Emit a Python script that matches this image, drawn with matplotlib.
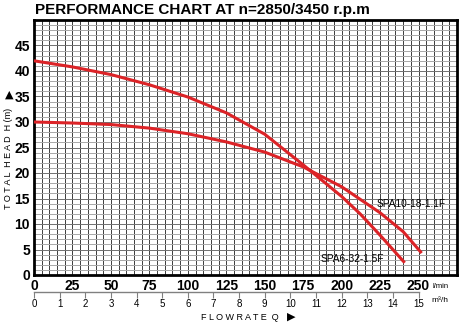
import matplotlib
matplotlib.use("Agg")
import matplotlib.pyplot as plt
import numpy as np

# flow in l/min, head in m
flow_a = [0, 25, 50, 75, 100, 125, 150, 175, 200, 212, 225, 241]
head_a = [42, 40.8, 39.3, 37.3, 34.9, 31.8, 27.6, 21.6, 15.4, 12, 7.8, 2.4]
flow_b = [0, 25, 50, 75, 100, 125, 150, 175, 200, 225, 240, 252]
head_b = [30, 29.8, 29.5, 28.8, 27.7, 26.1, 24.1, 21.2, 17.3, 12.2, 8.5, 4.3]
label_a = "SPA6-32-1.5F"
label_b = "SPA10-18-1.1F"

x_ticks = list(range(0, 251, 25))
y_ticks = list(range(0, 46, 5))
m3h_ticks = list(range(0, 16))

W, H = 464, 328
fig = plt.figure(figsize=(W / 100, H / 100), dpi=100)
fig.patch.set_facecolor("white")

L, R, T, B = 34, 457, 20, 275
ax = fig.add_axes([L / W, 1 - B / H, (R - L) / W, (B - T) / H])
ax.set_xlim(0, 275)
ax.set_ylim(0, 50)

# grid
for xv in np.arange(5, 275, 5):
    ax.axvline(xv, color="#3c3c3c", lw=0.7, zorder=1)
for yv in np.arange(1, 50, 1):
    ax.axhline(yv, color="#707070" if yv % 5 == 0 else "#a8a8a8", lw=0.7, zorder=1)

red = "#dc2327"
ax.plot(flow_a, head_a, color=red, lw=2.2, zorder=3, solid_capstyle="butt")
ax.plot(flow_b, head_b, color=red, lw=2.2, zorder=3, solid_capstyle="butt")

ax.text(223, 13.9, label_b, fontsize=7.3, va="center", ha="left",
        family="Liberation Sans", zorder=4)
ax.text(186, 3.1, label_a, fontsize=7.3, va="center", ha="left",
        family="Liberation Sans", zorder=4)

for s in ax.spines.values():
    s.set_linewidth(2)
    s.set_color("black")

ax.set_xticks(x_ticks)
ax.set_yticks(y_ticks)
ax.tick_params(length=0, pad=3)
ax.set_xticklabels([str(v) for v in x_ticks], fontsize=10, fontweight="bold",
                   family="Liberation Sans")
ax.set_yticklabels([str(v) for v in y_ticks], fontsize=10, fontweight="bold",
                   family="Liberation Sans")

# secondary m3/h scale
ax2 = fig.add_axes([L / W, 1 - 292 / H, (R - L) / W, 0.0001])
ax2.set_xlim(0, 275 * 0.06)
ax2.set_ylim(0, 1)
for k in ["top", "left", "right"]:
    ax2.spines[k].set_visible(False)
ax2.spines["bottom"].set_bounds(0, 15)
ax2.spines["bottom"].set_color("#808080")
ax2.spines["bottom"].set_linewidth(1)
ax2.set_yticks([])
ax2.set_xticks(m3h_ticks)
ax2.tick_params(axis="x", direction="out", length=4, color="#808080", pad=1)
ax2.set_xticklabels([str(v) for v in m3h_ticks], fontsize=7, family="Liberation Sans")
ax2.patch.set_visible(False)

fig.text(35 / W, 1 - 10 / H, "PERFORMANCE CHART AT n=2850/3450 r.p.m",
         fontsize=11, fontweight="bold", family="Liberation Sans", va="center", ha="left")
fig.text(433 / W, 1 - 286 / H, "l/min", fontsize=5.5, family="Liberation Sans",
         va="center", ha="left")
fig.text(431 / W, 1 - 301 / H, "m\u00b3/h", fontsize=6, family="Liberation Sans",
         va="center", ha="left")
fig.text(279 / W, 1 - 317 / H, "F L O W R A T E  Q", fontsize=6.5, family="Liberation Sans",
         va="center", ha="right")
fig.text(291 / W, 1 - 317 / H, "\u25b6", fontsize=8, family="DejaVu Sans",
         va="center", ha="center")
fig.text(9 / W, 1 - 158 / H, "T O T A L  H E A D  H (m)", fontsize=6.5, family="Liberation Sans",
         va="center", ha="center", rotation=90)
fig.text(9 / W, 1 - 95 / H, "\u25b2", fontsize=8, family="DejaVu Sans",
         va="center", ha="center")

fig.savefig("out.png", dpi=100)
